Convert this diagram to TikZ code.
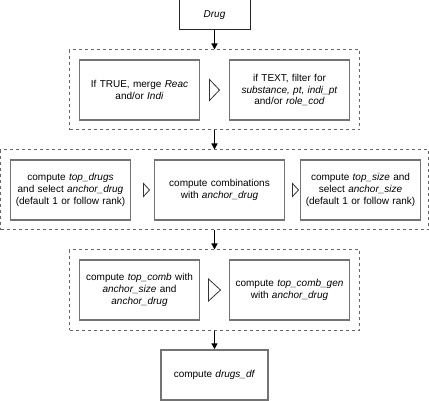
\documentclass[tikz,border=0pt]{standalone}
\usepackage{fontspec}
\setmainfont{Liberation Sans}
\usetikzlibrary{arrows.meta,calc}
\tikzstyle{grp}    = [draw=black!60,rectangle,dash pattern=on 3pt off 3pt,line width=1pt,minimum width=290pt,minimum height=80pt,node distance=100pt]
\tikzstyle{wgrp}   = [grp,minimum width=428pt]
\tikzstyle{block}  = [draw=black!55,rectangle,line width=1.5pt,align=center,inner sep=3pt,text width=114pt,minimum height=60pt,node distance=75pt,font=\fontsize{10}{11.7}\selectfont]
\tikzstyle{wblock} = [block,text width=124pt]
\tikzstyle{sblock} = [block,text width=101pt,minimum height=50pt]
\tikzstyle{dblock} = [draw=black!85,rectangle,line width=1pt,minimum width=71pt,minimum height=30pt,font=\fontsize{10}{11.7}\selectfont]
\tikzstyle{flow}   = [-{Triangle[length=6pt,width=6pt]},line width=1.3pt]
\tikzstyle{tri}    = [draw=black!80,line width=0.8pt,fill=white,line join=miter]

\begin{document}
\begin{tikzpicture}[x=1pt,y=1pt]
			\useasboundingbox (0,0) rectangle (429,-401);
			\node [dblock](drug) at (214.5,-15){\textit{Drug}};
			\node [grp,below of=drug,node distance=75pt](step 1){};
			\node [wgrp,below of=step 1](step 2){};
			\node [grp,below of=step 2](step 3){};
			\node [sblock,below of=step 3,node distance=85pt](final){compute \textit{drugs\_df}};
			
			\node [block,left of=step 1](merge){If TRUE, merge \textit{Reac}\\and/or \textit{Indi}};
			\node [block,right of=step 1](filter){if TEXT, filter for\\\textit{substance, pt, indi\_pt}\\and/or \textit{role\_cod}};
			
			\node [wblock,right of=step 2,node distance=5pt](comb){compute combinations\\with \textit{anchor\_drug}};
			\node [block,left of=comb,node distance=149pt](top drugs){compute \textit{top\_drugs}\\and select \textit{anchor\_drug}\\(default 1 or follow rank)};
			\node [block,right of=comb,node distance=141pt](top size){compute \textit{top\_size} and\\select \textit{anchor\_size}\\(default 1 or follow rank)};
			
			\node [block,left of=step 3](top comb){compute \textit{top\_comb} with\\\textit{anchor\_size} and\\\textit{anchor\_drug}};
			\node [block,right of=step 3](comb gen){compute \textit{top\_comb\_gen}\\with \textit{anchor\_drug}};
			
			\draw [flow] (drug) -- (step 1);
			\draw [flow] (step 1) -- (step 2);
			\draw [flow] (step 2) -- (step 3);
			\draw [flow] (step 3) -- (final);
			
			\draw [tri] ($(merge.east)!0.5!(filter.west)$) +(-5,10.5) -- +(5,0) -- +(-5,-10.5) -- cycle;
			\draw [tri] ($(top drugs.east)!0.5!(comb.west)$) +(1,6.5) -- +(7,0) -- +(1,-6.5) -- cycle;
			\draw [tri] ($(comb.east)!0.5!(top size.west)$) +(0,6.5) -- +(6,0) -- +(0,-6.5) -- cycle;
			\draw [tri] ($(top comb.east)!0.5!(comb gen.west)$) +(-6,11) -- +(6,0) -- +(-6,-11) -- cycle;
\end{tikzpicture}
\end{document}
